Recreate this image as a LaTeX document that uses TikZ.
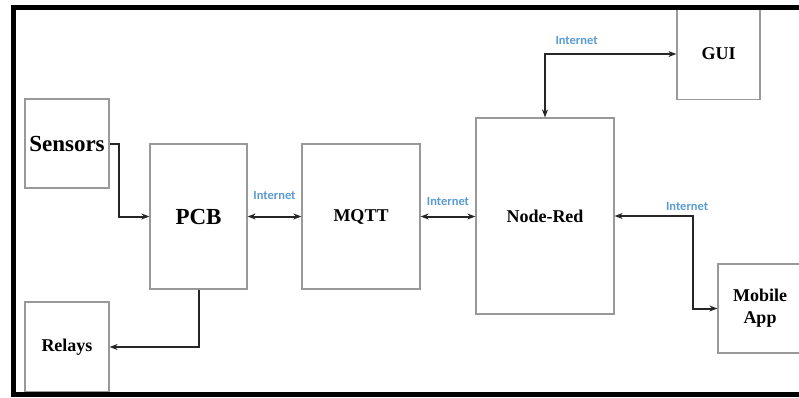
\documentclass[tikz,border=0pt]{standalone}
\usepackage{fontspec}
\setmainfont{Liberation Serif}
\newfontfamily\netfont{Carlito}
\usetikzlibrary{arrows.meta}

\definecolor{netblue}{RGB}{91,155,213}

\begin{document}
\begin{tikzpicture}[x=1pt, y=-1pt,
  block/.style={draw=black!40, line width=1.2pt, inner sep=0pt, align=center, font=\bfseries\fontsize{18}{22}\selectfont},
  big/.style={font=\bfseries\fontsize{23}{26}\selectfont},
  link/.style={black!85, line width=2pt, -{Stealth[length=8pt, width=6pt]}},
  both/.style={black!85, line width=2pt, {Stealth[length=8pt, width=6pt]}-{Stealth[length=8pt, width=6pt]}},
  net/.style={text=netblue, font=\netfont\bfseries\fontsize{12.5}{14}\selectfont, inner sep=0pt}]
\useasboundingbox (0,0) rectangle (799,397);
\clip (0,0) rectangle (799,397);

% blocks
\node[block, big, minimum width=84pt, minimum height=89pt] (sensors) at (67,143.5) {Sensors};
\node[block, big, minimum width=97pt, minimum height=145pt] (pcb) at (198.5,216.5) {PCB};
\node[block, minimum width=118pt, minimum height=145pt] (mqtt) at (361,216.5) {MQTT};
\node[block, minimum width=138pt, minimum height=196pt] (nodered) at (545,216) {Node-Red};
\node[block, minimum width=83pt, minimum height=91pt] (gui) at (718.5,54) {GUI};
\node[block, minimum width=84pt, minimum height=90pt] (relays) at (67,347) {Relays};
\node[block, minimum width=84pt, minimum height=89pt] (mobile) at (760,308.5) {Mobile\\App};

% connections
\draw[link] (sensors.east) -- ++(9,0) |- (pcb.west);
\draw[link] (pcb.south) |- (relays.east);
\draw[both] (pcb.east) -- node[net, yshift=21pt] {Internet} (mqtt.west);
\draw[both] (mqtt.west -| mqtt.east) -- node[net, yshift=15.5pt] {Internet} (nodered.west |- mqtt.west);
\draw[both] (nodered.north) |- node[net, pos=0.62, yshift=13.5pt] {Internet} (gui.west);
\draw[both] (nodered.east) -- node[net, pos=0.93, yshift=9.5pt] {Internet} ++(78,0) |- (mobile.west);

% frame
\draw[line width=5pt] (13.5,7.5) rectangle (815,394.5);

\end{tikzpicture}
\end{document}
